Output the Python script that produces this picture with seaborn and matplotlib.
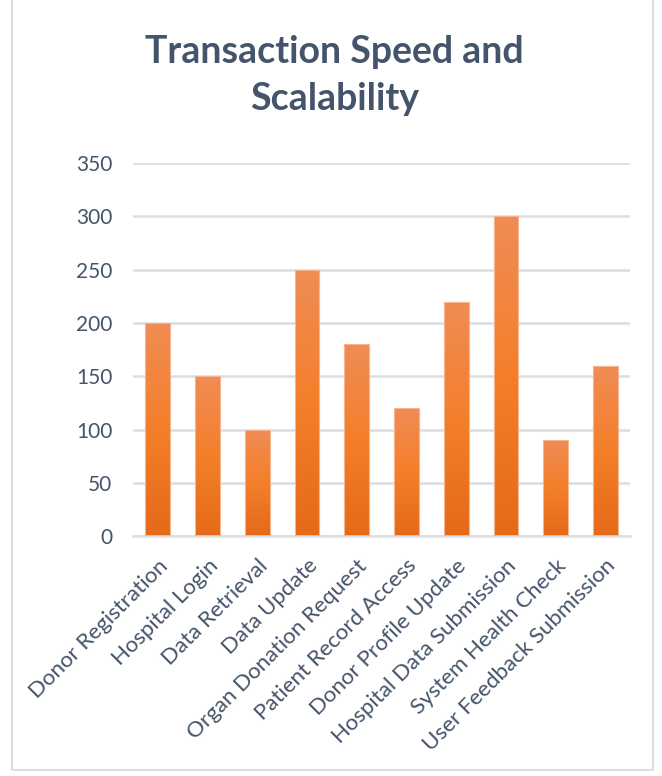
import numpy as np
import pandas as pd
import matplotlib
matplotlib.use("Agg")
import matplotlib.pyplot as plt
import seaborn as sns
from matplotlib.colors import LinearSegmentedColormap
from matplotlib.patches import Rectangle

# data
operations = [
    "Donor Registration", "Hospital Login", "Data Retrieval", "Data Update",
    "Organ Donation Request", "Patient Record Access", "Donor Profile Update",
    "Hospital Data Submission", "System Health Check", "User Feedback Submission",
]
speed = [200, 150, 100, 250, 180, 120, 220, 300, 90, 160]
y_ticks = [0, 50, 100, 150, 200, 250, 300, 350]

df = pd.DataFrame({"Operation": operations, "Value": speed})

sns.set_theme(style="white")
plt.rcParams["font.family"] = ["Lato", "DejaVu Sans"]

text_col = "#44546A"
grid_col = "#D9DEE6"

fig = plt.figure(figsize=(6.62, 7.76), dpi=100)
ax = fig.add_axes([0.201, 0.309, 0.751, 0.481])

sns.barplot(data=df, x="Operation", y="Value", color="#F47E2B",
            width=0.5, ax=ax, zorder=3)

# gradient fill on each bar (lighter top, darker bottom)
grad = LinearSegmentedColormap.from_list("g", ["#E46A18", "#F47F2A", "#F08C55"])
gimg = np.linspace(0, 1, 256).reshape(-1, 1)
for p in ax.patches:
    x0, y0 = p.get_x(), p.get_y()
    w, h = p.get_width(), p.get_height()
    p.set_facecolor("none")
    p.set_edgecolor("#F6B58E")
    p.set_linewidth(0.8)
    im = ax.imshow(gimg, cmap=grad, origin="lower", aspect="auto",
                   extent=[x0, x0 + w, y0, y0 + h], zorder=2)
    im.set_clip_path(p)

ax.set_xlim(-0.5, len(operations) - 0.5)
ax.set_ylim(0, 350)
ax.set_yticks(y_ticks)
ax.set_yticklabels([str(t) for t in y_ticks])
ax.yaxis.grid(True, color=grid_col, linewidth=1.8, zorder=0)
ax.set_axisbelow(True)
for s in ["top", "right", "left"]:
    ax.spines[s].set_visible(False)
ax.spines["bottom"].set_color(grid_col)
ax.spines["bottom"].set_linewidth(1.8)

ax.tick_params(axis="y", length=0, pad=15, labelsize=15, labelcolor=text_col)
ax.tick_params(axis="x", length=0, pad=14, labelsize=16, labelcolor=text_col)
ax.set_xticks(range(len(operations)))
ax.set_xticklabels(operations, rotation=45, ha="right", rotation_mode="anchor")
ax.set_xlabel("")
ax.set_ylabel("")

fig.text(0.505, 0.903, "Transaction Speed and\nScalability", ha="center", va="center",
         fontsize=27, fontweight="bold", color=text_col, linespacing=1.45)

# light frame around the chart
fig.patches.append(Rectangle((0.018, 0.008), 0.968, 1.1, transform=fig.transFigure,
                             fill=False, edgecolor="#D9DEE6", linewidth=1.5))

fig.savefig("out.png", dpi=100)
